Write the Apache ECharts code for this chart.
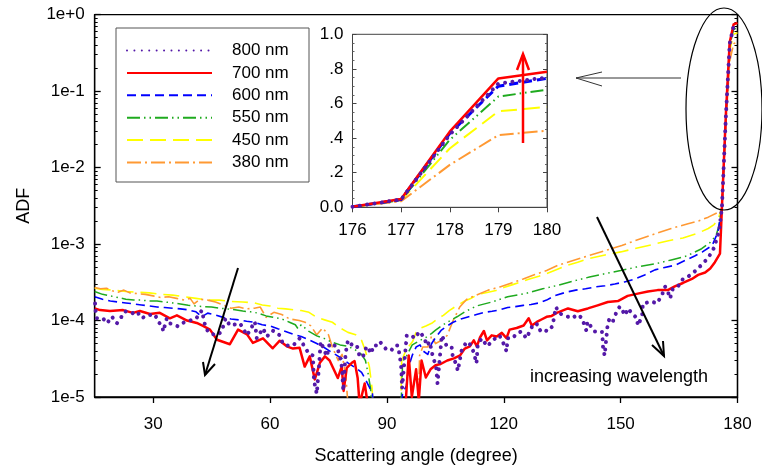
<!DOCTYPE html>
<html><head><meta charset="utf-8">
<script src="https://cdn.jsdelivr.net/npm/echarts@6.0.0/dist/echarts.min.js"></script>
<style>html,body{margin:0;padding:0;background:#fff}#c{width:762px;height:470px}</style>
</head><body><div id="c"></div>
<script>
// ---------- data ----------
const seriesNames = ['800 nm','700 nm','600 nm','550 nm','450 nm','380 nm'];
const xTickValues = [30,60,90,120,150,180];
const yDecadeValues = [1e-5,1e-4,1e-3,1e-2,1e-1,1];
const insetX = [176,177,178,179,180];
const inset800 = [0.003,0.045,0.42,0.715,0.75];
const inset700 = [0.003,0.048,0.437,0.745,0.784];
const inset600 = [0.003,0.045,0.427,0.70,0.745];
const inset550 = [0.003,0.042,0.39,0.64,0.68];
const inset450 = [0.003,0.040,0.34,0.555,0.58];
const inset380 = [0.003,0.035,0.245,0.417,0.443];

const main800 = [[15.1,1.67e-4],[15.2,1.36e-4],[15.6,1.07e-4],[17.1,1.07e-4],[18.2,9.2e-5],[19.4,1.13e-4],[20.7,9.2e-5],[22.3,1.2e-4],[22.8,1.32e-4],[24.6,1.24e-4],[25.8,1.32e-4],[27.1,1.07e-4],[28.4,1.17e-4],[30.5,1.2e-4],[31.2,9.7e-5],[32.3,8.6e-5],[32.6,7.2e-5],[33.5,1.07e-4],[34.3,9.2e-5],[36.4,8.4e-5],[38.2,9.7e-5],[39.4,1.0e-4],[41.0,1.05e-4],[42.5,1.36e-4],[43.5,7.9e-5],[44.6,6.8e-5],[46.4,6.4e-5],[47.6,7.2e-5],[48.6,1.07e-4],[49.7,8.6e-5],[52.3,9.2e-5],[54.1,6.4e-5],[56.1,9.7e-5],[56.6,5.85e-5],[58.2,7.9e-5],[59.2,6.2e-5],[60.7,7.4e-5],[62.5,6.4e-5],[63.3,5.0e-5],[64.3,4.7e-5],[65.9,4.7e-5],[67.6,5.85e-5],[69.4,4.1e-5],[70.2,3.6e-5],[71.0,3.5e-5],[71.3,1.62e-5],[72.0,1.1e-5],[72.6,2.6e-5],[73.0,5.3e-5],[74.6,3.4e-5],[75.3,5.0e-5],[77.1,4.6e-5],[77.9,3.5e-5],[78.5,2.38e-5],[78.8,1.2e-5],[79.4,3.7e-5],[80.0,5.5e-5],[81.2,4.7e-5],[82.3,4.7e-5],[83.0,3.4e-5],[83.8,3.3e-5],[84.8,4.6e-5],[86.1,3.7e-5],[86.4,4.7e-5],[87.4,4.7e-5],[88.2,5.3e-5],[90.0,4.1e-5],[91.2,4.1e-5],[92.0,4.7e-5],[92.8,4.7e-5],[93.3,3.5e-5],[93.7,2.38e-5],[93.9,1.3e-5],[95.1,6.4e-5],[96.4,6.4e-5],[97.1,5.85e-5],[98.4,7.2e-5],[99.7,5.85e-5],[100.2,4.7e-5],[101.0,5.3e-5],[101.5,3.95e-5],[101.9,3.2e-5],[102.6,2.6e-5],[103.0,1.5e-5],[104.1,6.4e-5],[105.3,4.7e-5],[106.6,4.6e-5],[106.9,3.4e-5],[107.9,2.6e-5],[108.2,2.2e-5],[109.2,4.1e-5],[110.5,5.3e-5],[111.7,4.7e-5],[112.5,3.5e-5],[113.0,2.76e-5],[113.3,4.7e-5],[114.3,5.85e-5],[115.8,4.6e-5],[117.1,5.5e-5],[118.9,6.4e-5],[120.2,4.7e-5],[120.7,3.95e-5],[121.0,5.85e-5],[122.3,5.85e-5],[123.3,6.8e-5],[124.6,7.2e-5],[125.8,5.85e-5],[127.4,8.6e-5],[128.4,9.2e-5],[129.2,7.4e-5],[129.9,7.9e-5],[131.2,7.2e-5],[132.5,8.4e-5],[133.0,1.17e-4],[133.4,1.5e-4],[134.3,1.24e-4],[136.3,1.13e-4],[137.6,1.07e-4],[138.9,1.2e-4],[140.2,1.07e-4],[140.7,8.6e-5],[141.2,7.4e-5],[141.5,9.7e-5],[143.3,7.2e-5],[144.1,7.2e-5],[145.2,7.2e-5],[145.4,5.5e-5],[145.5,4.3e-5],[145.9,3.5e-5],[146.7,9.2e-5],[147.2,1.07e-4],[148.0,9.7e-5],[149.0,1.32e-4],[149.8,1.53e-4],[150.6,1.32e-4],[151.1,1.17e-4],[151.9,1.44e-4],[152.9,1.24e-4],[154.2,1.07e-4],[154.4,8.6e-5],[155.5,1.13e-4],[155.7,1.67e-4],[158.0,1.77e-4],[159.3,1.67e-4],[160.6,2.14e-4],[161.4,2.78e-4],[162.1,2.4e-4],[162.7,1.94e-4],[163.4,2.62e-4],[164.7,2.78e-4],[166.0,3.5e-4],[167.0,3.7e-4],[167.8,3.9e-4],[169.5,4.6e-4],[171,5.5e-4],[172.5,6.6e-4],[174,9e-4],[175.3,1.5e-3]];

const main700 = [[15,1.44e-4],[16.4,1.37e-4],[18.9,1.33e-4],[22.3,1.37e-4],[24.8,1.26e-4],[26.6,1.33e-4],[29.2,1.22e-4],[31.7,1.26e-4],[34.3,1.07e-4],[36.1,1.17e-4],[38.7,1.0e-4],[41.2,9.3e-5],[42.8,8.5e-5],[44.6,7.6e-5],[46.4,5.6e-5],[49.7,4.9e-5],[51.8,7.6e-5],[54.1,6.6e-5],[55.6,5.1e-5],[58.2,5.85e-5],[60.7,4.34e-5],[62.5,5.45e-5],[64.3,4.6e-5],[65.9,4.3e-5],[67.6,4.4e-5],[68.9,2.5e-5],[70.2,3.4e-5],[71.5,1.7e-5],[72.8,2.8e-5],[74.1,3.4e-5],[75.3,3.0e-5],[77.4,1.77e-5],[78.4,2.5e-5],[78.9,1.2e-5],[79.7,2.4e-5],[81.0,2.8e-5],[81.7,2.95e-5],[82.5,1.77e-5],[83.0,8e-6],[84.3,1.5e-5],[85.1,8e-6],[94.8,8e-6],[95.6,3.5e-5],[96.4,1.0e-5],[97.5,2.3e-5],[98.2,9e-6],[98.9,3.0e-5],[100.0,1.8e-5],[101.2,2.3e-5],[102.5,2.6e-5],[103.8,2.7e-5],[105.5,3.0e-5],[107.2,3.2e-5],[108.8,3.5e-5],[110.0,4.3e-5],[111.3,4.6e-5],[112.3,5.5e-5],[113.1,4.6e-5],[113.9,6.0e-5],[114.9,7.3e-5],[115.7,5.5e-5],[116.9,6.4e-5],[118.2,6.2e-5],[119.5,6.9e-5],[120.7,5.9e-5],[121.5,7.6e-5],[123.3,8.0e-5],[125.1,8.6e-5],[126.4,1.07e-4],[127.2,8.6e-5],[128.5,9.6e-5],[129.8,1.04e-4],[131.0,1.12e-4],[132.3,1.15e-4],[133.6,1.26e-4],[136.5,1.44e-4],[139.0,1.32e-4],[141.6,1.44e-4],[144.1,1.58e-4],[146.7,1.75e-4],[149.3,1.8e-4],[151.8,2.1e-4],[154.4,2.25e-4],[157.0,2.4e-4],[159.5,2.5e-4],[162.1,2.5e-4],[163.9,2.8e-4],[166.0,3.1e-4],[168.3,3.5e-4],[169.9,3.95e-4],[171.7,4.25e-4],[173.0,4.8e-4],[174.2,5.8e-4],[175.5,7.5e-4]];

const main600 = [[15,2.05e-4],[17,1.9e-4],[19,1.8e-4],[21,1.75e-4],[23,1.7e-4],[25,1.65e-4],[27,1.6e-4],[29,1.55e-4],[31,1.5e-4],[33,1.48e-4],[35,1.45e-4],[37,1.42e-4],[39,1.38e-4],[41,1.3e-4],[42.5,1.12e-4],[44,1.25e-4],[46,1.18e-4],[48,1.1e-4],[50,1.05e-4],[52,1.02e-4],[54,9.8e-5],[56,9.5e-5],[58,8.8e-5],[60,8.5e-5],[62,7.8e-5],[64,7.2e-5],[66,6.6e-5],[68,6.2e-5],[70,5.6e-5],[72,5.0e-5],[74,4.4e-5],[76,3.8e-5],[78,3.3e-5],[80,2.8e-5],[82,2.4e-5],[83.5,2.1e-5],[84.5,1.7e-5],[85.5,1.35e-5],[86.3,1.1e-5],[86.8,5e-6],[93.5,5e-6],[94.0,1.1e-5],[95,1.4e-5],[95.6,2.5e-5],[96.5,3.5e-5],[97.5,4.5e-5],[98.5,4.8e-5],[99.3,4.0e-5],[100.5,3.6e-5],[101.5,5.0e-5],[102.5,6.0e-5],[104,7.5e-5],[105.5,8.5e-5],[107,9.5e-5],[109,1.05e-4],[111,1.12e-4],[113,1.2e-4],[115,1.28e-4],[117,1.32e-4],[119,1.38e-4],[121,1.48e-4],[123,1.52e-4],[125,1.58e-4],[127,1.62e-4],[129,1.7e-4],[131,1.85e-4],[133,2.1e-4],[136,2.35e-4],[138.5,2.5e-4],[141,2.6e-4],[143.5,2.75e-4],[146,2.85e-4],[148.5,3.0e-4],[151,3.2e-4],[153.7,3.5e-4],[156,3.9e-4],[158.8,4.6e-4],[161,4.9e-4],[164,5.3e-4],[167.4,6.4e-4],[169,7.0e-4],[171,7.9e-4],[173.5,9.6e-4],[175,1.45e-3]];

const main550 = [[15,2.4e-4],[17,2.2e-4],[19,2.1e-4],[21,2.0e-4],[23,1.9e-4],[25,1.85e-4],[27,1.85e-4],[29,1.8e-4],[31,1.8e-4],[33,1.75e-4],[35,1.7e-4],[37,1.65e-4],[39,1.58e-4],[41,1.55e-4],[43,1.52e-4],[45,1.5e-4],[47,1.45e-4],[49,1.42e-4],[51,1.38e-4],[53,1.33e-4],[55,1.3e-4],[57,1.25e-4],[59,1.15e-4],[61,1.1e-4],[63,1.05e-4],[65,9.5e-5],[66.5,8.8e-5],[67.2,7.8e-5],[68,8.8e-5],[70,7.2e-5],[72,6.3e-5],[74,5.8e-5],[76,5.2e-5],[78,4.8e-5],[80,4.6e-5],[82,4.1e-5],[83.5,3.6e-5],[84.5,3.0e-5],[85.2,2.0e-5],[85.8,1.3e-5],[86.4,5e-6],[93.5,5e-6],[94.0,2.5e-5],[94.4,3.2e-5],[95,3.4e-5],[96.5,4.8e-5],[98.5,5.5e-5],[100,6.0e-5],[101.5,6.8e-5],[102.5,7.5e-5],[104,8.5e-5],[105.5,9.5e-5],[108,1.12e-4],[110,1.3e-4],[113,1.55e-4],[117,1.75e-4],[121,2.05e-4],[125.5,2.25e-4],[130,2.6e-4],[134,2.9e-4],[138,3.3e-4],[142,3.7e-4],[146,4.1e-4],[150,4.5e-4],[154,5.0e-4],[158.8,5.5e-4],[163,6.2e-4],[167,7.0e-4],[170.8,8.7e-4],[173,1.05e-3],[174.5,1.3e-3],[175.2,1.7e-3]];

const main450 = [[15,2.65e-4],[17,2.55e-4],[20,2.5e-4],[23,2.4e-4],[26,2.35e-4],[29,2.3e-4],[32,2.2e-4],[35,2.15e-4],[38,2.05e-4],[41,1.95e-4],[44,1.85e-4],[47,1.85e-4],[50,1.78e-4],[53,1.75e-4],[56,1.7e-4],[58,1.6e-4],[60,1.55e-4],[62,1.45e-4],[64,1.42e-4],[66,1.38e-4],[68,1.35e-4],[70,1.28e-4],[72,1.1e-4],[74,1.02e-4],[76,9.5e-5],[78,8e-5],[80,7e-5],[82,6.5e-5],[83.5,5.5e-5],[84.5,4e-5],[85.5,2.5e-5],[86.2,1.3e-5],[86.6,5e-6],[93.5,5e-6],[93.8,3.0e-5],[95,4.2e-5],[96.6,5.3e-5],[97.5,7e-5],[98.5,7.9e-5],[100,8.5e-5],[101.5,9.2e-5],[103,1.05e-4],[104.5,1.17e-4],[106,1.35e-4],[108,1.57e-4],[110,1.8e-4],[111.5,1.94e-4],[113.5,2.2e-4],[116,2.35e-4],[118,2.47e-4],[120,2.7e-4],[122.3,2.95e-4],[124.5,3.2e-4],[126.6,3.5e-4],[129,3.8e-4],[131,4.1e-4],[133,4.5e-4],[136,5.2e-4],[139,5.8e-4],[142,6.5e-4],[146,7.2e-4],[150,7.9e-4],[154,8.8e-4],[158,9.8e-4],[162,1.1e-3],[166,1.2e-3],[170,1.4e-3],[172.5,1.6e-3],[174,1.8e-3],[175,2.1e-3]];

const main380 = [[15,2.7e-4],[16.5,2.6e-4],[18,2.65e-4],[19.5,2.45e-4],[21,2.35e-4],[22.5,2.5e-4],[24,2.3e-4],[26,2.25e-4],[28,2.2e-4],[30,2.1e-4],[32,2.0e-4],[34,2.05e-4],[36,1.95e-4],[38,1.85e-4],[39.5,1.95e-4],[40.5,1.65e-4],[42,1.9e-4],[44,1.85e-4],[46,1.75e-4],[48,1.6e-4],[50,1.45e-4],[52,1.5e-4],[54,1.42e-4],[56,1.45e-4],[57.5,1.5e-4],[59,1.1e-4],[61,1.28e-4],[63,1.2e-4],[65,1.05e-4],[67.5,1.0e-4],[69,9.5e-5],[70.5,8.5e-5],[72,6.5e-5],[73.5,8.0e-5],[75,6.5e-5],[76,4.5e-5],[77.5,3.0e-5],[78.5,3.6e-5],[79.5,1.8e-5],[80.3,5e-6],[98.0,5e-6],[98.4,3.5e-5],[99.2,4.5e-5],[100.5,4.5e-5],[101.5,6.3e-5],[102.5,5.0e-5],[104,5.5e-5],[105.5,6.4e-5],[107,1.0e-4],[108.7,1.5e-4],[110.5,1.9e-4],[113,2.15e-4],[116,2.5e-4],[119,2.75e-4],[122,3.1e-4],[125,3.5e-4],[128,4.0e-4],[131,4.5e-4],[134,5.3e-4],[137,5.9e-4],[141.6,7.0e-4],[146,8.2e-4],[150.3,9.6e-4],[154,1.12e-3],[158.8,1.36e-3],[163,1.6e-3],[167.3,1.85e-3],[170,2.0e-3],[172.5,2.25e-3],[175,2.6e-3]];

// ---------- build ----------
const FONT = "'Liberation Sans', Arial, sans-serif";
const withTail = (arr, tail) => arr.concat(insetX.map((x, i) => [x, tail[i]]));
const pairs = (tail) => insetX.map((x, i) => [x, tail[i]]);
const minorValues = [];
for (let d = 1e-5; d < 0.5; d *= 10) for (let k = 2; k <= 9; k++) minorValues.push(+(k * d).toPrecision(3));
const logFmt = v => { const e = Math.round(Math.log10(v)); return '1e' + (e >= 0 ? '+' : '') + e; };
const insetFmt = v => v === 0 ? '0.0' : (v >= 0.999 ? '1.0' : '.' + Math.round(v * 10));

const styles = {
  '800 nm': {color:'#5419A8', width:4, type:[0.01,7.4], cap:'round'},
  '700 nm': {color:'#FF0000', width:2.5, type:'solid', cap:'butt'},
  '600 nm': {color:'#0000FF', width:1.6, type:[9,5], cap:'butt'},
  '550 nm': {color:'#1FAA1F', width:1.5, type:[13,4,1.5,4,1.5,4], cap:'butt'},
  '450 nm': {color:'#FFFF00', width:1.6, type:[16,7], cap:'butt'},
  '380 nm': {color:'#FF9933', width:1.6, type:[14,4,2,4], cap:'butt'}
};
const mainData = {'800 nm':withTail(main800,inset800),'700 nm':withTail(main700,inset700),'600 nm':withTail(main600,inset600),'550 nm':withTail(main550,inset550),'450 nm':withTail(main450,inset450),'380 nm':withTail(main380,inset380)};
const insetData = {'800 nm':pairs(inset800),'700 nm':pairs(inset700),'600 nm':pairs(inset600),'550 nm':pairs(inset550),'450 nm':pairs(inset450),'380 nm':pairs(inset380)};
const drawOrder = ['450 nm','380 nm','550 nm','600 nm','700 nm','800 nm'];
const zOf = {'450 nm':2,'380 nm':3,'550 nm':4,'600 nm':5,'700 nm':6,'800 nm':7};

const series = [];
drawOrder.forEach(n => {
  const s = styles[n];
  series.push({name:n, type:'line', xAxisIndex:0, yAxisIndex:0, data:mainData[n], symbol:'none', z:zOf[n], clip:true,
    lineStyle:{color:s.color, width:s.width, type:s.type, cap:s.cap, join:'round'}, itemStyle:{color:s.color}, animation:false});
});
drawOrder.forEach(n => {
  const s = styles[n];
  const w = n === '700 nm' ? 2.5 : (n === '600 nm' ? 3 : (n === '800 nm' ? 4 : 2));
  series.push({name:n, type:'line', xAxisIndex:1, yAxisIndex:4, data:insetData[n], symbol:'none', z:10+zOf[n], clip:true,
    lineStyle:{color:s.color, width:w, type:s.type, cap:s.cap, join:'round'}, itemStyle:{color:s.color}, animation:false});
});

const blk = {color:'#000', width:1.3};
const option = {
  animation:false,
  textStyle:{fontFamily:FONT},
  grid:[
    {left:94.7, top:14.7, width:642.8, height:384.3, show:true, borderColor:'#000', borderWidth:1.3, backgroundColor:'transparent'},
    {left:352.5, top:34.3, width:194.5, height:173, show:true, borderColor:'#444', borderWidth:1, backgroundColor:'#fff', z:8}
  ],
  xAxis:[
    {gridIndex:0, type:'value', min:15, max:180,
      axisLine:{show:true, lineStyle:blk}, axisTick:{show:true, inside:false, length:6, customValues:xTickValues, lineStyle:blk},
      axisLabel:{customValues:xTickValues, fontSize:17, color:'#000', margin:19, fontFamily:FONT}, splitLine:{show:false},
      name:'Scattering angle (degree)', nameLocation:'middle', nameGap:50, nameTextStyle:{fontSize:18, color:'#000', fontFamily:FONT}},
    {gridIndex:1, type:'value', min:176, max:180, interval:1, z:9,
      axisLine:{show:true, lineStyle:{color:'#444', width:1}}, axisTick:{show:true, inside:false, length:5, lineStyle:{color:'#444'}},
      axisLabel:{fontSize:17, color:'#000', margin:15, fontFamily:FONT}, splitLine:{show:false}}
  ],
  yAxis:[
    {gridIndex:0, type:'log', logBase:10, min:1e-5, max:1, position:'left',
      axisLine:{show:true, lineStyle:blk}, axisTick:{show:true, inside:true, length:6, customValues:yDecadeValues, lineStyle:blk},
      axisLabel:{customValues:yDecadeValues, formatter:logFmt, fontSize:17, color:'#000', margin:10, fontFamily:FONT}, splitLine:{show:false},
      name:'ADF', nameLocation:'middle', nameGap:62, nameRotate:90, nameTextStyle:{fontSize:18, color:'#000', fontFamily:FONT}},
    {gridIndex:0, type:'log', logBase:10, min:1e-5, max:1, position:'left',
      axisLine:{show:false}, axisTick:{show:true, inside:true, length:3, customValues:minorValues, lineStyle:{color:'#000', width:1}},
      axisLabel:{show:false}, splitLine:{show:false}},
    {gridIndex:0, type:'log', logBase:10, min:1e-5, max:1, position:'right',
      axisLine:{show:true, lineStyle:blk}, axisTick:{show:true, inside:true, length:6, customValues:yDecadeValues, lineStyle:blk},
      axisLabel:{show:false}, splitLine:{show:false}},
    {gridIndex:0, type:'log', logBase:10, min:1e-5, max:1, position:'right',
      axisLine:{show:false}, axisTick:{show:true, inside:true, length:3, customValues:minorValues, lineStyle:{color:'#000', width:1}},
      axisLabel:{show:false}, splitLine:{show:false}},
    {gridIndex:1, type:'value', min:0, max:1, interval:0.2, position:'left', z:9,
      axisLine:{show:true, lineStyle:{color:'#444', width:1}}, axisTick:{show:true, inside:true, length:4, lineStyle:{color:'#444'}},
      minorTick:{show:true, splitNumber:4, length:2, lineStyle:{color:'#666'}},
      axisLabel:{formatter:insetFmt, fontSize:17, color:'#000', margin:9, fontFamily:FONT}, splitLine:{show:false}},
    {gridIndex:1, type:'value', min:0, max:1, interval:0.2, position:'right', z:9,
      axisLine:{show:true, lineStyle:{color:'#444', width:1}}, axisTick:{show:true, inside:true, length:4, lineStyle:{color:'#444'}},
      minorTick:{show:true, splitNumber:4, length:2, lineStyle:{color:'#666'}},
      axisLabel:{show:false}, splitLine:{show:false}}
  ],
  legend:{orient:'vertical', left:121, top:37, itemWidth:85, itemHeight:12, itemGap:5.4, selectedMode:false, z:30,
    itemStyle:{opacity:0, color:'rgba(0,0,0,0)', borderWidth:0},
    data:seriesNames, textStyle:{fontSize:17, color:'#000', padding:[0,0,0,15], fontFamily:FONT}},
  graphic:[
    {type:'rect', z:25, shape:{x:116, y:28, width:193, height:154}, style:{fill:'#fff', stroke:'#555', lineWidth:1}},
    {type:'ellipse', z:100, shape:{cx:724, cy:109, rx:38, ry:101}, style:{fill:'none', stroke:'#000', lineWidth:1.2}},
    {type:'polyline', z:100, shape:{points:[[681,78],[576,78]]}, style:{stroke:'#333', lineWidth:1, fill:'none'}},
    {type:'polyline', z:100, shape:{points:[[602,72],[576,78],[602,86]]}, style:{stroke:'#333', lineWidth:1, fill:'none'}},
    {type:'polyline', z:100, shape:{points:[[238,268],[205,375]]}, style:{stroke:'#000', lineWidth:2, fill:'none'}},
    {type:'polyline', z:100, shape:{points:[[203,362],[205,375],[215,364]]}, style:{stroke:'#000', lineWidth:2, fill:'none'}},
    {type:'polyline', z:100, shape:{points:[[597,217],[664,356]]}, style:{stroke:'#000', lineWidth:2, fill:'none'}},
    {type:'polyline', z:100, shape:{points:[[652,345],[664,356],[663,341]]}, style:{stroke:'#000', lineWidth:2, fill:'none'}},
    {type:'polyline', z:100, shape:{points:[[523,143],[523,55]]}, style:{stroke:'#FF0000', lineWidth:2.5, fill:'none'}},
    {type:'polyline', z:100, shape:{points:[[517,70],[523,54],[529,70]]}, style:{stroke:'#FF0000', lineWidth:2.5, fill:'none'}},
    {type:'text', z:100, x:530, y:377, style:{text:'increasing wavelength', fontSize:18, fill:'#000', fontFamily:FONT, verticalAlign:'middle', align:'left'}}
  ],
  series: series
};
const chart = echarts.init(document.getElementById('c'), null, {renderer:'canvas'});
chart.setOption(option);
</script></body></html>
